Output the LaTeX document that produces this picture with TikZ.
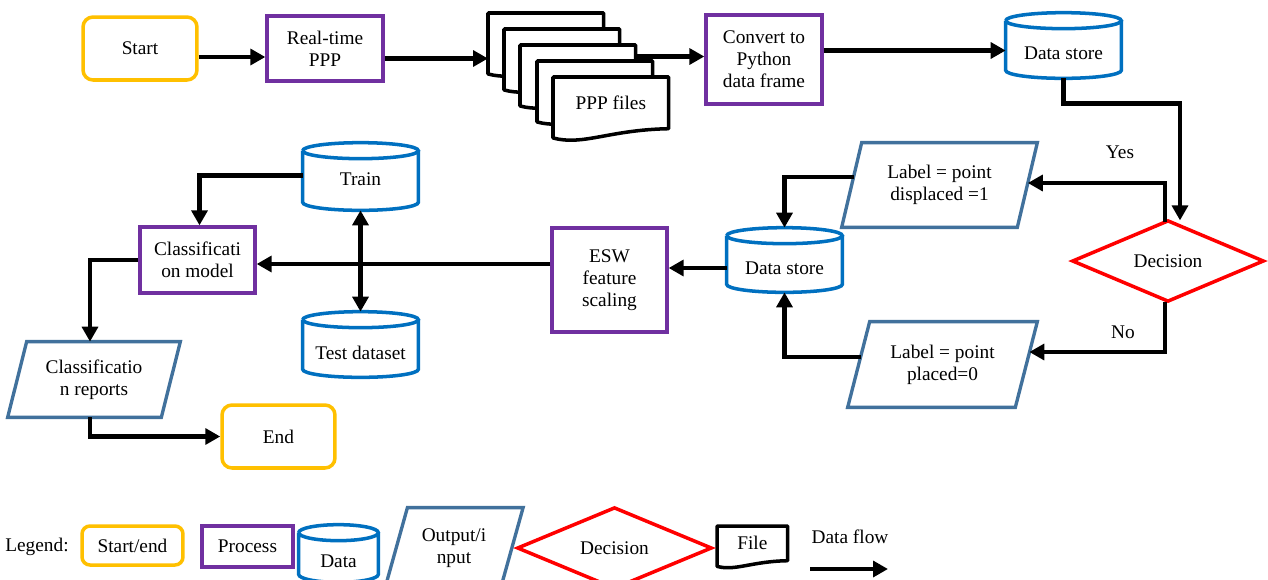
\documentclass[tikz,border=0pt]{standalone}
\usepackage{fontspec}
\setmainfont{Liberation Serif}
\usetikzlibrary{arrows.meta,calc,shapes.geometric}
\definecolor{yel}{HTML}{FFC000}
\definecolor{pur}{HTML}{7030A0}
\definecolor{cyb}{HTML}{0070C0}
\definecolor{stl}{HTML}{41719C}
\definecolor{dred}{HTML}{FF0000}
\pgfdeclarelayer{background}
\pgfsetlayers{background,main}
\newcommand\cylout[1]{%
 \draw[cylline] let \p1=(#1.north west), \p2=(#1.south east), \n1={0.5*(\x2-\x1)} in
 (\x1,\y1+0.16cm) arc[start angle=180,end angle=-180,x radius=\n1*1pt,y radius=0.16cm]
 (\x1,\y1+0.16cm) -- (\x1,\y2+0.16cm) arc[start angle=180,end angle=360,x radius=\n1*1pt,y radius=0.16cm] -- (\x2,\y1+0.16cm);}
\newcommand\docout[1]{%
 \draw[docline] let \p1=(#1.north west), \p2=(#1.south east), \n1={\x2-\x1} in
 (\x1,\y1) -- (\x2,\y1) -- (\x2,\y2) .. controls (\x1+\n1*0.48pt,\y2-\n1*0.01pt) and (\x1+\n1*0.26pt,\y2-\n1*0.15pt) .. (\x1,\y2-\n1*0.08pt) -- cycle;}
\newcommand\paraout[2]{%
 \draw[paraline] ($(#1.north west)+(#2,0)$) -- (#1.north east) -- ($(#1.south east)-(#2,0)$) -- (#1.south west) -- cycle;}
\tikzset{
 every node/.style={font=\fontsize{11}{12.5}\selectfont, align=center, inner sep=0pt},
 >={Triangle[length=8.5pt,width=9pt]},
 term/.style={draw=yel, line width=2pt, rounded corners=0.2cm},
 proc/.style={draw=pur, line width=1.9pt},
 dia/.style={shape=diamond, draw=dred, line width=2pt},
 body/.style={draw=none},
 cylline/.style={draw=cyb, line width=2pt},
 paraline/.style={draw=stl, line width=1.9pt},
 docline/.style={draw=black, fill=white, line width=2pt, line join=round},
 flow/.style={draw=black, line width=2.6pt, ->},
 flowtwo/.style={draw=black, line width=2.6pt, <->}
}
\begin{document}
\begin{tikzpicture}[x=0.02cm,y=-0.02cm]
\useasboundingbox (0,0) rectangle (1268,579);
\clip (0,0) rectangle (1268,579);
% main nodes
\node[term, minimum width=2.28cm, minimum height=1.26cm] (start) at (140,48.5) {Start};
\node[proc, minimum width=2.32cm, minimum height=1.30cm] (rt) at (325,48.5) {Real-time\\PPP};
\node[body, anchor=north west, minimum width=2.3cm, minimum height=1.02cm] (f1) at (488,13) {};
\node[body, anchor=north west, minimum width=2.3cm, minimum height=1.02cm] (f2) at (504,29) {};
\node[body, anchor=north west, minimum width=2.3cm, minimum height=1.02cm] (f3) at (520,45) {};
\node[body, anchor=north west, minimum width=2.3cm, minimum height=1.02cm] (f4) at (537,61) {};
\node[body, anchor=north west, minimum width=2.3cm, minimum height=1.02cm] (f5) at (553,77) {PPP files};
\node[proc, minimum width=2.32cm, minimum height=1.78cm] (conv) at (764,59.5) {Convert to\\Python\\data frame};
\node[body, minimum width=2.30cm, minimum height=0.98cm] (ds1) at (1063.5,53.5) {Data store};
\node[dia, minimum width=3.84cm, minimum height=1.32cm] (dec) at (1168,261) {Decision};
\node[body, minimum width=3.90cm, minimum height=1.68cm] (lab1) at (939.5,185) {Label = point\\displaced =1};
\node[body, minimum width=3.78cm, minimum height=1.70cm] (lab0) at (942.5,364.5) {Label = point\\placed=0};
\node[body, minimum width=2.30cm, minimum height=0.96cm] (dsm) at (784.5,268) {Data store};
\node[proc, minimum width=2.30cm, minimum height=2.08cm] (esw) at (609.5,280) {ESW\\feature\\scaling};
\node[body, minimum width=2.30cm, minimum height=1.02cm, text depth=0.2cm] (train) at (360.5,184.5) {Train};
\node[body, minimum width=2.30cm, minimum height=0.98cm] (test) at (360.5,352.5) {Test dataset};
\node[proc, minimum width=2.30cm, minimum height=1.32cm] (cls) at (197.5,260) {Classificati\\on model};
\node[body, minimum width=3.44cm, minimum height=1.50cm] (rep) at (94,379.5) {Classificatio\\n reports};
\node[term, minimum width=2.26cm, minimum height=1.26cm] (endn) at (278.5,436.5) {End};
\node (yes) at (1120,152) {Yes};
\node (no) at (1123,332) {No};
% legend
\node (legt) at (37,547) {Legend:};
\node[term, rounded corners=0.16cm, minimum width=2.02cm, minimum height=0.78cm] (lg1) at (132.5,545.5) {Start/end};
\node[proc, minimum width=1.82cm, minimum height=0.82cm] (lg2) at (247.5,546.5) {Process};
\node[body, minimum width=1.58cm, minimum height=0.82cm] (lg3) at (338.5,561.5) {Data};
\node[body, minimum width=2.75cm, minimum height=1.60cm] (lg4) at (454,548) {Output/i\\nput};
\node[dia, minimum width=3.90cm, minimum height=1.24cm] (lg5) at (614.5,548) {Decision};
\node[body, anchor=north west, minimum width=1.40cm, minimum height=0.68cm] (lg6) at (717,526) {File};
\node (lgt) at (850,537) {Data flow};
\coordinate (lfa) at (810,569);
\coordinate (lfb) at (888,569);
% outlines
\begin{pgfonlayer}{background}
\fill[white] (0,0) rectangle (1268,579);
\docout{f1}\docout{f2}\docout{f3}\docout{f4}\docout{f5}
\docout{lg6}
\end{pgfonlayer}
\cylout{ds1}\cylout{dsm}\cylout{train}\cylout{test}\cylout{lg3}
\paraout{lab1}{20}\paraout{lab0}{22}\paraout{rep}{19}\paraout{lg4}{22.5}
% connectors
\draw[flow] ($(start.east)+(0,8.5)$) -- ($(rt.west)+(0,8.5)$);
\draw[flow] ($(rt.east)+(0,10)$) -- ($(f1.west |- rt.east)+(0,10)$);
\draw[flow] ($(f3.east |- conv.west)+(0,-3)$) -- ($(conv.west)+(0,-3)$);
\draw[flow] ($(conv.east |- ds1.west)+(0,-3)$) -- ($(ds1.west)+(0,-3)$);
\draw[flow] (ds1.south) -- ++(0,25) -| ($(dec.north)+(12,2)$);
\draw[flow] ($(dec.north)+(-3,4)$) |- ($(lab1.east)+(-9.5,-2)$);
\draw[flow] ($(dec.south)+(-3,-2)$) |- ($(lab0.east)+(-8,-12.5)$);
\draw[flow] ($(lab1.west)+(12,-8)$) -| ($(dsm.north)+(0,-16)$);
\draw[flow] ($(lab0.west)+(13,-7.5)$) -| (dsm.south);
\draw[flow] (dsm.west) -- (dsm.west -| esw.east);
\draw[flow] ($(esw.west)+(0,-16)$) -- ($(cls.east)+(0,4)$);
\draw[flowtwo] (train.south) -- ($(test.north)+(0,-16)$);
\draw[flow] ($(train.west)+(0,-9)$) -| ($(cls.north)+(2,0)$);
\draw[flow] (cls.west) -| ($(rep.north)+(-4,0)$);
\draw[flow] ($(rep.south)+(-4,0)$) |- (endn.west);
\draw[flow] (lfa) -- (lfb);
\end{tikzpicture}
\end{document}
